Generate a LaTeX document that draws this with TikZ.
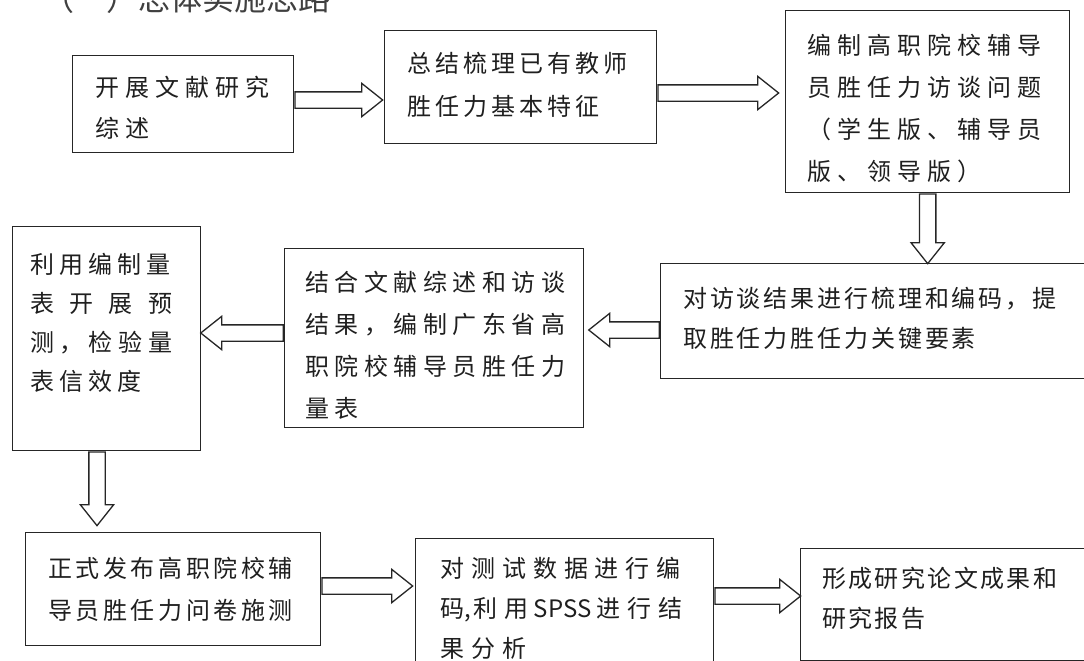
\documentclass[tikz,border=0pt]{standalone}
\usepackage{fontspec}
\newfontfamily\cjk{Noto Sans CJK SC}
\usetikzlibrary{shapes.arrows,calc}
\tikzset{
  box/.style={draw=black!85, line width=1.4pt, anchor=north west, inner sep=0pt},
  txt/.style={anchor=west, align=left, inner sep=0pt, text=black!88},
  barrow/.style={single arrow, draw=black!85, line width=1.3pt, inner xsep=0pt, inner ysep=7.5pt,
    minimum width=32pt, single arrow head extend=8.5pt, single arrow tip angle=77, anchor=tail},
}
\newcommand\mkbox[5]{\node[box, minimum width={(#4)-(#2)}, minimum height={(#5)-(#3)}] (#1) at (#2,#3) {};}
\newcommand\blockarrow[3]{%
  \path let \p1=(#2), \p2=(#3), \n1={veclen(\x2-\x1,\y2-\y1)}, \n2={atan2(\y2-\y1,\x2-\x1)} in
    node[barrow, minimum height=\n1, rotate=\n2] (#1) at (\p1) {};}
\newcommand\cf[2]{\cjk\fontsize{24}{#1}\selectfont\addfontfeature{LetterSpace=#2}}
\begin{document}
\begin{tikzpicture}[x=1pt,y=-1pt]
\useasboundingbox (0,0) rectangle (1084,661);
\clip (0,0) rectangle (1084,661);
\fill[white] (0,0) rectangle (1084,661);

% title (cut off at the top)
\node[anchor=base west, inner sep=0pt, font=\cjk\fontsize{32}{32}\selectfont, text=black!75] (T) at (42,11) {（一）总体实施思路};

% boxes
\mkbox{A}{72}{55}{293}{152}
\mkbox{B}{384}{30}{656}{143}
\mkbox{C}{785}{10}{1069}{192}
\mkbox{D}{660}{263}{1092}{378}
\mkbox{E}{284}{248}{583}{427}
\mkbox{F}{12}{226}{200}{450}
\mkbox{G}{25}{532}{320}{645}
\mkbox{H}{415}{538}{713}{690}
\mkbox{I}{800}{548}{1095}{660}

% texts
\node[txt, font=\cf{41}{25}] (At) at (95,107.5) {开展文献研究\\综述};
\node[txt, font=\cf{43}{17}] (Bt) at (407,84.5) {总结梳理已有教师\\胜任力基本特征};
\node[txt, font=\cf{41.7}{25}] (Ct) at (807,108.5) {编制高职院校辅导\\员胜任力访谈问题\\（学生版、辅导员\\版、领导版）};
\node[txt, font=\cf{40}{12}] (Dt) at (683,318) {对访谈结果进行梳理和编码，提\\取胜任力胜任力关键要素};
\node[txt, font=\cf{42}{23}] (Et) at (305,345) {结合文献综述和访谈\\结果，编制广东省高\\职院校辅导员胜任力\\量表};
\node[txt, font=\cf{39}{21}] (Ft) at (30,323) {利用编制量\\\hbox to 142pt{表\hfill 开\hfill 展\hfill 预}\\\hbox to 142pt{测，\hfill 检\hfill 验\hfill 量}\\表信效度};
\node[txt, font=\cf{42}{15}] (Gt) at (48,589) {正式发布高职院校辅\\导员胜任力问卷施测};
\node[txt, font=\cf{40}{29}] (Ht) at (440,608) {对测试数据进行编\\码{\addfontfeature{LetterSpace=0},}\hspace{3pt}利用\hspace{5pt}{\addfontfeature{LetterSpace=0}SPSS}\hspace{5pt}进行结\\果分析};
\node[txt, font=\cf{40}{10}] (It) at (822,598) {形成研究论文成果和\\研究报告};

% arrow levels
\coordinate (yAB) at (0,100);
\coordinate (yBC) at (0,93);
\coordinate (yDE) at (0,330);
\coordinate (yEF) at (0,333);
\coordinate (yGH) at (0,586);
\coordinate (yHI) at (0,596);
\coordinate (xFG) at (97,0);

\blockarrow{aAB}{A.east |- yAB}{$(B.west |- yAB)+(-2,0)$}
\blockarrow{aBC}{B.east |- yBC}{$(C.west |- yBC)+(-7,0)$}
\blockarrow{aCD}{C.south}{C.south |- D.north}
\blockarrow{aDE}{D.west |- yDE}{$(E.east |- yDE)+(5,0)$}
\blockarrow{aEF}{E.west |- yEF}{F.east |- yEF}
\blockarrow{aFG}{F.south -| xFG}{$(G.north -| xFG)+(0,-7)$}
\blockarrow{aGH}{G.east |- yGH}{$(H.west |- yGH)+(-3,0)$}
\blockarrow{aHI}{H.east |- yHI}{I.west |- yHI}
\end{tikzpicture}
\end{document}
